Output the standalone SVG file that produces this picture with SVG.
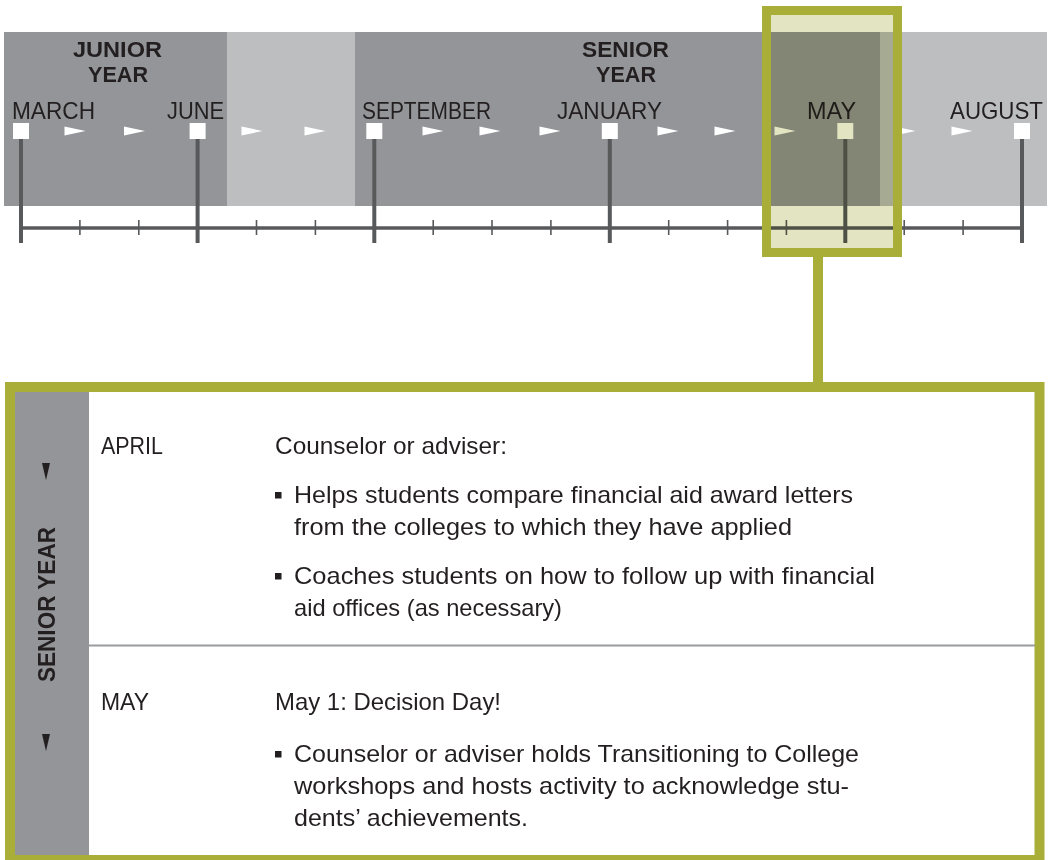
<svg xmlns="http://www.w3.org/2000/svg" width="1049" height="860" viewBox="0 0 1049 860">
<style>
.lbl{font-family:"Liberation Sans",Arial,sans-serif;font-size:24px;fill:#231f20}
.yr{font-family:"Liberation Sans",Arial,sans-serif;font-size:22px;font-weight:bold;fill:#231f20;text-anchor:middle}
.body{font-family:"Liberation Sans",Arial,sans-serif;font-size:24px;fill:#231f20}
.side{font-family:"Liberation Sans",Arial,sans-serif;font-size:24px;font-weight:bold;fill:#231f20;text-anchor:middle}
.stem{stroke:#58595b;stroke-width:4}
.tick{stroke:#58595b;stroke-width:1.6}
.sq{fill:#ffffff}
.arr{fill:#ffffff}
.bul{fill:#231f20}
</style>
<defs>
<polygon id="ar" points="-10.5,126.5 10.5,131 -10.5,135.5"/>
</defs>
<rect width="1049" height="860" fill="#ffffff"/>

<g id="timeline-band">
<rect x="4" y="32" width="223" height="174" fill="#939598"/>
<rect x="227" y="32" width="128" height="174" fill="#bcbec0"/>
<rect x="355" y="32" width="525" height="174" fill="#939598"/>
<rect x="880" y="32" width="167" height="174" fill="#bcbec0"/>
<text class="yr" x="117.5" y="57" textLength="89" lengthAdjust="spacingAndGlyphs">JUNIOR</text>
<text class="yr" x="118" y="82" textLength="60" lengthAdjust="spacingAndGlyphs">YEAR</text>
<text class="yr" x="625.5" y="57" textLength="87" lengthAdjust="spacingAndGlyphs">SENIOR</text>
<text class="yr" x="626" y="82" textLength="60" lengthAdjust="spacingAndGlyphs">YEAR</text>
</g>

<g id="axis">
<line x1="21" y1="228" x2="1022" y2="228" stroke="#58595b" stroke-width="3.5"/>
<line class="tick" x1="79.9" y1="220" x2="79.9" y2="235"/>
<line class="tick" x1="138.8" y1="220" x2="138.8" y2="235"/>
<line class="tick" x1="256.5" y1="220" x2="256.5" y2="235"/>
<line class="tick" x1="315.4" y1="220" x2="315.4" y2="235"/>
<line class="tick" x1="433.2" y1="220" x2="433.2" y2="235"/>
<line class="tick" x1="492" y1="220" x2="492" y2="235"/>
<line class="tick" x1="550.9" y1="220" x2="550.9" y2="235"/>
<line class="tick" x1="668.7" y1="220" x2="668.7" y2="235"/>
<line class="tick" x1="727.6" y1="220" x2="727.6" y2="235"/>
<line class="tick" x1="786.4" y1="220" x2="786.4" y2="235"/>
<line class="tick" x1="904.2" y1="220" x2="904.2" y2="235"/>
<line class="tick" x1="963.1" y1="220" x2="963.1" y2="235"/>
<use href="#ar" class="arr" x="75"/>
<use href="#ar" class="arr" x="134.5"/>
<use href="#ar" class="arr" x="252"/>
<use href="#ar" class="arr" x="315"/>
<use href="#ar" class="arr" x="433"/>
<use href="#ar" class="arr" x="490"/>
<use href="#ar" class="arr" x="550"/>
<use href="#ar" class="arr" x="668"/>
<use href="#ar" class="arr" x="725"/>
<use href="#ar" class="arr" x="785"/>
<use href="#ar" class="arr" x="905"/>
<use href="#ar" class="arr" x="962"/>
</g>

<g id="month-march">
<line class="stem" x1="21" y1="139" x2="21" y2="243"/>
<rect class="sq" x="13" y="123" width="16" height="16"/>
<text class="lbl" x="12" y="119" textLength="83" lengthAdjust="spacingAndGlyphs">MARCH</text>
</g>
<g id="month-june">
<line class="stem" x1="197.6" y1="139" x2="197.6" y2="243"/>
<rect class="sq" x="189.6" y="123" width="16" height="16"/>
<text class="lbl" x="167" y="119" textLength="57" lengthAdjust="spacingAndGlyphs">JUNE</text>
</g>
<g id="month-september">
<line class="stem" x1="374.3" y1="139" x2="374.3" y2="243"/>
<rect class="sq" x="366.3" y="123" width="16" height="16"/>
<text class="lbl" x="362" y="119" textLength="129" lengthAdjust="spacingAndGlyphs">SEPTEMBER</text>
</g>
<g id="month-january">
<line class="stem" x1="609.8" y1="139" x2="609.8" y2="243"/>
<rect class="sq" x="601.8" y="123" width="16" height="16"/>
<text class="lbl" x="557" y="119" textLength="105" lengthAdjust="spacingAndGlyphs">JANUARY</text>
</g>
<g id="month-may">
<line class="stem" x1="845.3" y1="139" x2="845.3" y2="243"/>
<rect class="sq" x="837.3" y="123" width="16" height="16"/>
<text class="lbl" x="807" y="119" textLength="49" lengthAdjust="spacingAndGlyphs">MAY</text>
</g>
<g id="month-august">
<line class="stem" x1="1022" y1="139" x2="1022" y2="243"/>
<rect class="sq" x="1014" y="123" width="16" height="16"/>
<text class="lbl" x="950" y="119" textLength="93" lengthAdjust="spacingAndGlyphs">AUGUST</text>
</g>

<g id="highlight-may">
<rect x="766.5" y="10.5" width="131" height="242" fill="#e3e5c2" style="mix-blend-mode:multiply"/>
<rect x="766.5" y="10.5" width="131" height="242" fill="none" stroke="#a9ae38" stroke-width="9"/>
</g>

<g id="connectors">
<line x1="818" y1="252" x2="818" y2="387" stroke="#a9ae38" stroke-width="10"/>
</g>

<g id="detail-panel">
<rect x="10" y="387" width="1029.5" height="473" fill="#ffffff" stroke="#a9ae38" stroke-width="10"/>
<rect x="15" y="392" width="74" height="463" fill="#939598"/>
<polygon points="42,463 50,463 46,480" fill="#231f20"/>
<polygon points="42,734 50,734 46,751" fill="#231f20"/>
<text class="side" transform="translate(55,604.5) rotate(-90)" x="0" y="0" textLength="155" lengthAdjust="spacingAndGlyphs">SENIOR YEAR</text>
<line x1="89" y1="645.5" x2="1035" y2="645.5" stroke="#9a9b9d" stroke-width="2"/>

<g id="row-april">
<text class="body" x="101" y="454" textLength="62" lengthAdjust="spacingAndGlyphs">APRIL</text>
<text class="body" x="275" y="454" textLength="232" lengthAdjust="spacingAndGlyphs">Counselor or adviser:</text>
<rect class="bul" x="275" y="492" width="6.5" height="6.5"/>
<text class="body" x="294" y="503" textLength="559" lengthAdjust="spacingAndGlyphs">Helps students compare financial aid award letters</text>
<text class="body" x="294" y="535" textLength="498" lengthAdjust="spacingAndGlyphs">from the colleges to which they have applied</text>
<rect class="bul" x="275" y="573" width="6.5" height="6.5"/>
<text class="body" x="294" y="584" textLength="581" lengthAdjust="spacingAndGlyphs">Coaches students on how to follow up with financial</text>
<text class="body" x="294" y="616" textLength="268" lengthAdjust="spacingAndGlyphs">aid offices (as necessary)</text>
</g>

<g id="row-may">
<text class="body" x="101" y="710" textLength="48" lengthAdjust="spacingAndGlyphs">MAY</text>
<text class="body" x="275" y="710" textLength="226" lengthAdjust="spacingAndGlyphs">May 1: Decision Day!</text>
<rect class="bul" x="275" y="751" width="6.5" height="6.5"/>
<text class="body" x="294" y="762" textLength="565" lengthAdjust="spacingAndGlyphs">Counselor or adviser holds Transitioning to College</text>
<text class="body" x="294" y="794" textLength="555" lengthAdjust="spacingAndGlyphs">workshops and hosts activity to acknowledge stu-</text>
<text class="body" x="294" y="826" textLength="234" lengthAdjust="spacingAndGlyphs">dents’ achievements.</text>
</g>
</g>
</svg>
